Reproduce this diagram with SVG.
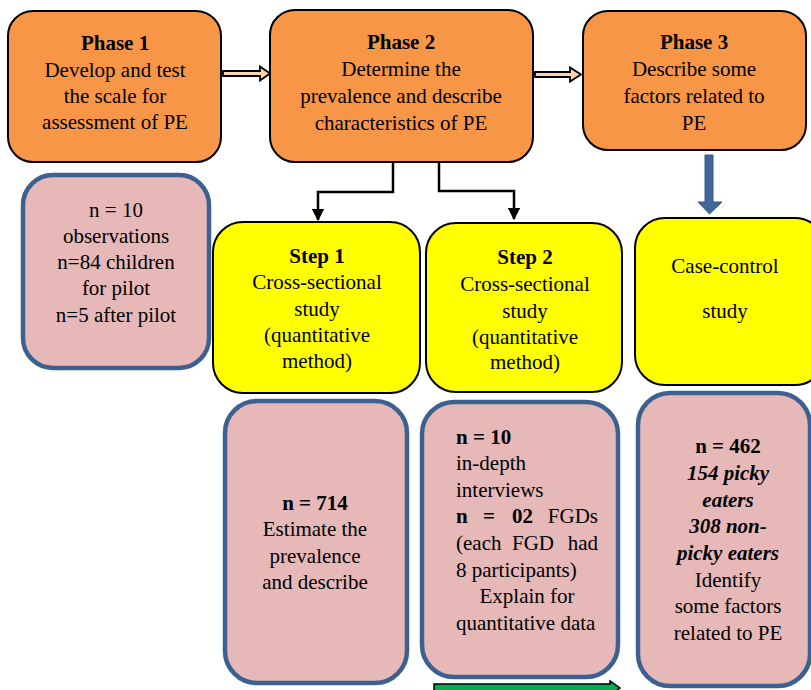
<svg xmlns="http://www.w3.org/2000/svg" width="811" height="690" viewBox="0 0 811 690">
<style>
text{font-family:"Liberation Serif","Times New Roman",serif;font-size:21px;fill:#000}
.c{text-anchor:middle}
.b{font-weight:bold}
.bi{font-weight:bold;font-style:italic}
.phase{fill:#F79646;stroke:#000;stroke-width:2}
.step{fill:#FFFF00;stroke:#000;stroke-width:2}
.pink{fill:#E6B8B7;stroke:#3C6090;stroke-width:4.5}
.conn{fill:none;stroke:#000;stroke-width:2.5}
</style>
<defs>
<marker id="ah" viewBox="0 0 10 10" refX="9" refY="5" markerWidth="5" markerHeight="5" orient="auto" markerUnits="strokeWidth">
<path d="M0,0 L10,5 L0,10 z" fill="#000"/>
</marker>
</defs>
<rect x="0" y="0" width="811" height="690" fill="#fff"/>

<g id="connectors">
<path d="M223,71 H260 V66.5 L270,73.5 L260,80.5 V76 H223 Z" fill="#FAD3B4" stroke="#000" stroke-width="1.8"/>
<path d="M535,72 H570 V67.5 L581,74.5 L570,81.5 V77 H535 Z" fill="#FAD3B4" stroke="#000" stroke-width="1.8"/>
<path class="conn" d="M393,162 V192 H318 V220" marker-end="url(#ah)"/>
<path class="conn" d="M439,162 V191 H514 V219" marker-end="url(#ah)"/>
<path d="M705,155 H713 V202 H722 L709.5,214 L698,202 H705 Z" fill="#41679A" stroke="#355886" stroke-width="1"/>
<path d="M434,684 H610 V681 L620,688 L610,695 V692 H434 Z" fill="#00B050" stroke="#000" stroke-width="1.5"/>
</g>

<g id="phase1">
<rect class="phase" x="8" y="11" width="213" height="151" rx="25"/>
<text class="c b" x="115" y="50">Phase 1</text>
<text class="c" x="115" y="77">Develop and test</text>
<text class="c" x="115" y="103">the scale for</text>
<text class="c" x="115" y="129">assessment of PE</text>
</g>

<g id="phase2">
<rect class="phase" x="270" y="10" width="263" height="152" rx="25"/>
<text class="c b" x="401" y="49">Phase 2</text>
<text class="c" x="401" y="76">Determine the</text>
<text class="c" x="401" y="103">prevalence and describe</text>
<text class="c" x="401" y="130">characteristics of PE</text>
</g>

<g id="phase3">
<rect class="phase" x="583" y="11" width="223" height="139" rx="25"/>
<text class="c b" x="694" y="49">Phase 3</text>
<text class="c" x="694" y="76">Describe some</text>
<text class="c" x="694" y="103">factors related to</text>
<text class="c" x="694" y="130">PE</text>
</g>

<g id="pilot">
<rect class="pink" x="23" y="175" width="186" height="193" rx="30"/>
<text class="c" x="116" y="217">n = 10</text>
<text class="c" x="116" y="243">observations</text>
<text class="c" x="116" y="269">n=84 children</text>
<text class="c" x="116" y="295">for pilot</text>
<text class="c" x="116" y="322">n=5 after pilot</text>
</g>

<g id="step1">
<rect class="step" x="213" y="222" width="207" height="171" rx="30"/>
<text class="c b" x="317" y="263">Step 1</text>
<text class="c" x="317" y="289">Cross-sectional</text>
<text class="c" x="317" y="316">study</text>
<text class="c" x="317" y="342">(quantitative</text>
<text class="c" x="317" y="368">method)</text>
</g>

<g id="step2">
<rect class="step" x="426" y="223" width="196" height="169" rx="30"/>
<text class="c b" x="525" y="264">Step 2</text>
<text class="c" x="525" y="291">Cross-sectional</text>
<text class="c" x="525" y="318">study</text>
<text class="c" x="525" y="344">(quantitative</text>
<text class="c" x="525" y="369">method)</text>
</g>

<g id="casecontrol">
<rect class="step" x="635" y="218" width="190" height="167" rx="30"/>
<text class="c" x="725" y="273">Case-control</text>
<text class="c" x="725" y="318">study</text>
</g>

<g id="sample1">
<rect class="pink" x="225" y="401" width="182" height="282" rx="32"/>
<text class="c b" x="315" y="510">n = 714</text>
<text class="c" x="315" y="536">Estimate the</text>
<text class="c" x="315" y="563">prevalence</text>
<text class="c" x="315" y="589">and describe</text>
</g>

<g id="sample2">
<rect class="pink" x="422" y="402" width="196" height="275" rx="32"/>
<text class="b" x="456" y="444">n = 10</text>
<text x="456" y="470">in-depth</text>
<text x="456" y="497">interviews</text>
<text class="b" x="456" y="523">n</text>
<text class="b" x="483" y="523">=</text>
<text class="b" x="512" y="523">02</text>
<text x="598" y="523" text-anchor="end">FGDs</text>
<text x="456" y="550">(each</text>
<text x="512" y="550">FGD</text>
<text x="598" y="550" text-anchor="end">had</text>
<text x="456" y="577">8 participants)</text>
<text class="c" x="527" y="603">Explain for</text>
<text x="456" y="630">quantitative data</text>
</g>

<g id="sample3">
<rect class="pink" x="638" y="393" width="172" height="293" rx="32"/>
<text class="c b" x="728" y="453">n = 462</text>
<text class="c bi" x="728" y="480">154 picky</text>
<text class="c bi" x="728" y="507">eaters</text>
<text class="c bi" x="728" y="533">308 non-</text>
<text class="c bi" x="728" y="560">picky eaters</text>
<text class="c" x="728" y="587">Identify</text>
<text class="c" x="728" y="613">some factors</text>
<text class="c" x="728" y="640">related to PE</text>
</g>
</svg>
